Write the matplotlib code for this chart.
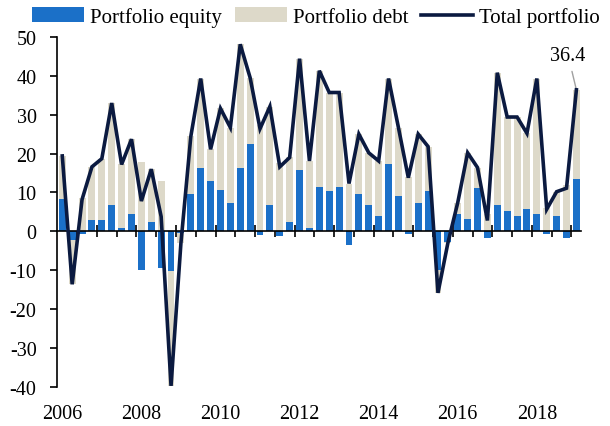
import numpy as np
import matplotlib
matplotlib.use("Agg")
import matplotlib.pyplot as plt

plt.rcParams['font.family'] = ['Liberation Serif', 'DejaVu Serif']
plt.rcParams['axes.unicode_minus'] = False

# quarterly data, 2006Q1 .. 2019Q1
years = [2006, 2008, 2010, 2012, 2014, 2016, 2018]
equity = [8.2, -2.2, -0.7, 2.9, 2.9, 6.8, 1.0, 4.4,
          -9.8, 2.4, -9.3, -10.2, -0.5, 9.6, 16.3, 13.0,
          10.6, 7.3, 16.3, 22.5, -0.9, 6.8, -1.2, 2.5,
          15.8, 1.0, 11.5, 10.5, 11.5, -3.6, 9.6, 6.8,
          3.9, 17.2, 9.1, -0.7, 7.3, 10.5, -9.8, -2.7,
          4.4, 3.3, 11.1, -1.7, 6.8, 5.3, 3.9, 5.8,
          4.4, -0.7, 3.9, -1.7, 13.4]
debt = [11.2, -11.4, 8.7, 13.7, 15.8, 26.2, 16.2, 19.3,
        17.8, 13.6, 13.0, -29.5, -2.5, 14.8, 23.0, 8.1,
        21.0, 19.4, 31.8, 17.0, 27.3, 25.3, 17.6, 16.5,
        28.6, 17.1, 29.8, 25.2, 24.2, 12.3, 15.4, 13.4,
        14.2, 22.1, 17.6, 14.0, 17.7, 11.3, -6.0, -0.3,
        3.0, 16.9, 5.3, 4.5, 34.0, 24.1, 25.5, 19.4,
        34.9, 6.0, 6.3, 12.0, 23.0]
total = [19.4, -13.6, 8.2, 16.6, 18.7, 33.0, 17.2, 23.7,
         7.8, 16.0, 3.8, -39.7, -3.0, 24.4, 39.3, 21.1,
         31.6, 26.7, 48.1, 39.5, 26.4, 32.1, 16.6, 19.0,
         44.4, 18.1, 41.3, 35.7, 35.7, 12.3, 25.0, 20.2,
         18.1, 39.3, 26.7, 13.8, 25.0, 21.8, -15.8, -3.0,
         7.4, 20.2, 16.4, 2.8, 40.8, 29.4, 29.4, 25.2,
         39.3, 5.7, 10.2, 11.1, 36.4]

eq = np.array(equity)
de = np.array(debt)
x = np.arange(len(eq))
# excel-like stacking: same sign stacks on equity, otherwise from zero
bottom = np.where(np.sign(de) == np.sign(eq), eq, 0)

fig = plt.figure(figsize=(6.1, 4.27), dpi=100)
ax = fig.add_axes([0.094, 0.0913, 0.859, 0.82])

c_eq = '#1B70C8'
c_de = '#DDD9C9'
c_line = '#0B1A40'

b1 = ax.bar(x, eq, width=0.7, color=c_eq, label='Portfolio equity', zorder=2)
b2 = ax.bar(x, de, width=0.7, bottom=bottom, color=c_de, label='Portfolio debt', zorder=2)
l1, = ax.plot(x, total, color=c_line, lw=2.6, label='Total portfolio', zorder=4,
              solid_joinstyle='miter')

ax.set_xlim(-0.5, len(x) - 0.5)
ax.set_ylim(-40, 50)
ax.set_yticks(range(-40, 51, 10))

for s in ['top', 'right']:
    ax.spines[s].set_visible(False)
ax.spines['bottom'].set_position(('data', 0))
ax.spines['bottom'].set_zorder(3)
ax.spines['left'].set_linewidth(1.2)
ax.spines['bottom'].set_linewidth(1.2)

# year boundaries as major ticks, half years as minor
ax.set_xticks(np.arange(3.5, len(x), 4))
ax.set_xticks(np.arange(1.5, len(x), 4), minor=True)
ax.tick_params(axis='x', which='major', direction='inout', length=9, width=1.2,
               labelbottom=False)
ax.tick_params(axis='x', which='minor', direction='out', length=4, width=1.2)
ax.tick_params(axis='y', direction='out', length=5, width=1.2, pad=10,
               labelsize=14.5)

sec = ax.secondary_xaxis('bottom')
sec.set_xticks([(y - 2006) * 4 for y in years])
sec.set_xticklabels([str(y) for y in years])
sec.spines['bottom'].set_visible(False)
sec.tick_params(length=0, pad=12, labelsize=14.5)

ax.annotate('36.4', xy=(x[-1], total[-1]), xytext=(-6, 25),
            textcoords='offset points', ha='center', va='center', fontsize=14.5,
            arrowprops=dict(arrowstyle='-', color='#A0A0A0', lw=1,
                            shrinkA=3, shrinkB=1))

fig.legend(handles=[b1, b2, l1], loc='center', bbox_to_anchor=(0.518, 0.958),
           ncol=3, frameon=False, fontsize=15, handlelength=2.5,
           handletextpad=0.3, columnspacing=0.6, borderaxespad=0)

fig.savefig('out.png', dpi=100)
